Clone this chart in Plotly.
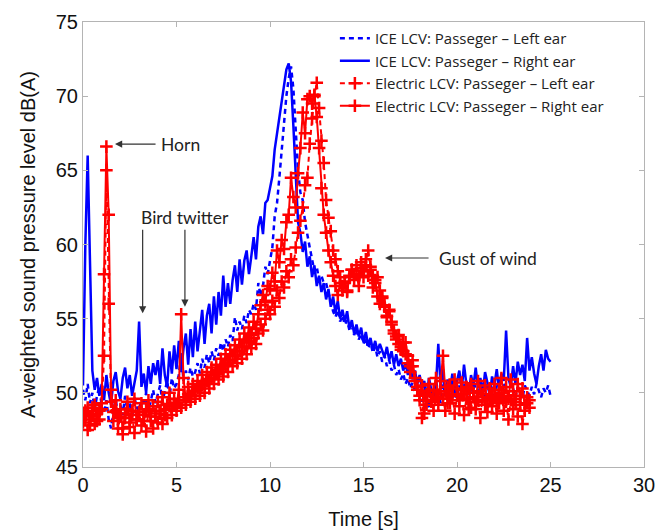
import numpy as np
import plotly.graph_objects as go

# ---- data (0.125 s steps) ----
ice_right = [
    50.5, 60.0, 66.0, 58.5, 51.5, 50.2, 51.0, 49.8,
    50.6, 49.5, 51.2, 50.0, 49.2, 50.8, 51.4, 50.1,
    49.6, 51.0, 51.7, 50.3, 51.2, 49.8, 50.6, 51.5,
    54.8, 50.4, 51.3, 50.0, 51.8, 50.6, 52.0, 51.2,
    52.2, 50.6, 53.0, 51.2, 50.4, 52.8, 51.3, 53.2,
    51.6, 53.5, 51.4, 53.0, 54.0, 51.9, 54.3, 52.4,
    54.8, 52.8, 54.2, 55.6, 53.3, 55.2, 56.0, 54.0,
    56.5, 54.6, 56.8, 55.2, 57.9, 55.8, 57.4, 56.0,
    57.6, 58.6, 56.8, 59.0, 57.3, 58.9, 59.6, 58.0,
    59.2, 60.5, 59.0, 61.2, 61.9, 60.7, 62.8, 63.0,
    63.8, 64.6, 66.4, 67.5, 68.6, 69.8, 71.0, 71.8,
    72.2, 71.0, 68.0, 64.5, 61.5, 60.8, 59.5, 60.2,
    58.5, 59.2, 57.8, 58.6, 57.2, 57.9, 56.8, 57.4,
    56.3, 57.0, 55.8, 56.5, 55.4, 56.2, 55.0, 55.6,
    54.8, 55.5, 54.3, 54.9, 54.0, 54.6, 53.8, 54.4,
    53.4, 54.1, 53.2, 53.7, 52.9, 53.5, 52.8, 53.3,
    52.9, 52.4, 53.1, 52.2, 52.8, 51.9, 52.6, 51.8,
    52.3, 51.5, 52.0, 51.2, 51.8, 50.9, 51.5, 50.6,
    51.2, 50.3, 50.8, 49.6, 51.0, 50.2, 49.4, 50.5,
    53.3, 50.4, 51.6, 49.8, 50.9, 50.1, 51.3, 49.7,
    50.8, 51.5, 50.2, 51.9, 50.6, 49.9, 51.2, 50.4,
    51.7, 50.3, 51.0, 50.0, 51.4, 50.7, 49.8, 51.1,
    50.5, 51.6, 50.2, 51.3, 50.8, 54.2, 51.0, 50.4,
    51.8, 50.6, 52.1, 51.2, 51.9, 50.8, 53.7, 51.5,
    52.4, 51.3, 50.6, 51.8, 52.6, 51.5, 52.9, 52.3,
    52.1,
]

ice_left = [
    50.2, 49.5, 50.6, 49.3, 50.0, 48.9, 49.8, 50.4,
    49.1, 48.6, 49.5, 48.2, 47.6, 48.8, 49.6, 48.4,
    49.2, 48.5, 49.8, 48.9, 49.4, 48.3, 49.7, 49.0,
    48.8, 49.6, 49.1, 50.0, 48.7, 49.5, 50.2, 49.3,
    49.9, 50.5, 49.4, 50.1, 50.8, 49.7, 51.0, 50.3,
    50.6, 51.2, 52.7, 50.8, 51.5, 50.9, 51.7, 51.1,
    51.4, 52.0, 51.3, 52.3, 51.7, 52.6, 52.0, 52.8,
    52.2, 53.0, 52.5, 53.4, 52.8, 53.6, 53.1, 53.9,
    53.5, 55.1, 54.2, 54.8, 54.3, 55.2, 54.7, 55.6,
    55.3, 56.0, 55.6, 57.4, 56.5, 57.2, 58.5, 58.0,
    59.0, 59.8, 61.9, 62.8, 64.5, 66.4, 68.2, 70.0,
    71.2, 72.0, 70.5, 67.5, 65.0, 63.5, 63.0, 61.5,
    60.5, 59.8, 59.0, 58.2, 58.5, 57.6, 57.9, 57.4,
    57.4, 56.8, 56.2, 55.5, 55.1, 55.6, 54.8, 55.2,
    54.6, 54.9, 54.2, 54.5, 53.9, 54.3, 53.6, 54.0,
    53.3, 53.7, 53.0, 53.4, 52.7, 53.1, 52.4, 52.8,
    52.1, 52.5, 51.8, 52.2, 51.5, 51.9, 51.2, 51.6,
    50.9, 51.3, 50.6, 51.0, 50.3, 50.7, 50.0, 50.4,
    50.1, 49.4, 50.5, 49.8, 48.9, 50.2, 49.6, 50.8,
    50.0, 49.3, 50.6, 49.9, 50.4, 49.5, 50.9, 50.2,
    49.6, 50.5, 49.8, 50.7, 50.0, 49.4, 50.3, 50.9,
    50.2, 49.7, 50.8, 50.1, 49.5, 50.6, 50.0, 50.4,
    49.8, 50.5, 50.1, 49.6, 50.7, 50.2, 49.9, 50.6,
    50.3, 49.7, 50.4, 50.0, 49.6, 50.5, 50.1, 49.8,
    50.4, 49.9, 50.6, 50.2, 49.7, 50.3, 50.0, 50.5,
    49.8,
]

ev_right = [
    48.6, 48.2, 49.0, 47.8, 48.5, 49.2, 48.1, 48.8,
    49.3, 58.0, 66.6, 62.0, 50.2, 48.7, 49.5, 48.3,
    48.9, 47.6, 48.6, 49.4, 48.0, 48.8, 49.6, 48.2,
    48.7, 49.3, 48.1, 48.9, 49.5, 48.4, 49.1, 48.6,
    49.4, 48.8, 49.7, 48.5, 49.2, 50.0, 48.9, 49.6,
    49.1, 50.2, 55.3, 51.0, 49.5, 50.4, 49.8, 50.6,
    50.1, 50.8, 50.3, 51.2, 50.6, 51.4, 50.9, 51.7,
    51.2, 51.9, 51.4, 52.3, 51.8, 52.6, 52.0, 52.9,
    52.5, 53.2, 52.8, 53.6, 53.1, 54.0, 53.5, 54.4,
    53.9, 54.8, 54.3, 55.3, 55.9, 56.6, 56.1, 57.2,
    57.0, 58.1, 57.5, 59.6, 58.8, 60.3, 59.7, 61.5,
    62.0, 64.5, 63.2, 62.5, 64.8, 66.5, 68.9, 67.5,
    69.8, 70.0, 69.5, 70.1, 68.6, 66.5, 63.8, 62.0,
    60.8, 59.6, 58.8, 57.9, 57.2, 56.6, 57.4, 56.9,
    57.5, 56.8, 57.9, 58.3, 57.6, 58.0, 57.2, 58.4,
    57.8, 58.6, 57.9, 58.3, 57.1, 57.6, 56.5, 56.0,
    56.4, 55.8, 55.2, 55.5, 54.6, 54.0, 53.6, 53.9,
    53.1, 52.8, 53.4, 52.5, 51.8, 52.2, 51.0, 50.4,
    49.8, 50.5, 48.6, 49.9, 50.6, 49.4, 50.2, 51.0,
    49.6, 50.8, 52.5, 50.1, 49.3, 50.5, 49.8, 50.9,
    50.3, 49.5, 50.7, 49.9, 50.4, 48.9, 50.6, 50.0,
    49.4, 50.8, 50.1, 49.7, 50.5, 49.2, 50.3, 49.8,
    50.6, 49.5, 50.2, 51.0, 49.8, 50.4, 49.6, 50.9,
    50.1, 49.4, 50.6, 49.8, 50.3, 49.2, 49.7, 49.5,
]

ev_left = [
    48.0, 48.8, 47.5, 48.4, 49.0, 47.9, 48.6, 48.2,
    48.9, 52.5, 65.0, 56.0, 49.4, 48.1, 48.8, 47.6,
    48.4, 47.2, 48.3, 48.9, 47.7, 48.5, 47.3, 48.2,
    48.7, 47.8, 48.5, 47.4, 48.8, 48.1, 47.6, 48.4,
    48.0, 48.6, 47.9, 48.9, 48.3, 49.1, 48.5, 49.3,
    48.8, 49.5, 49.0, 49.7, 49.2, 49.9, 49.4, 50.1,
    49.6, 50.3, 49.8, 50.5, 50.0, 50.8, 50.3, 51.0,
    50.6, 51.3, 50.9, 51.6, 51.1, 51.9, 51.4, 52.2,
    51.8, 52.5, 52.0, 52.8, 52.3, 53.1, 52.6, 53.4,
    53.0, 53.7, 53.3, 54.0, 54.6, 54.2, 55.0, 55.6,
    55.3, 56.2, 55.8, 56.9, 56.4, 57.5, 57.1, 58.2,
    57.8, 59.0, 58.6, 59.8, 60.8, 61.6, 62.5, 64.0,
    64.5, 66.8, 68.5, 70.0, 70.9, 69.2, 67.0, 65.5,
    63.0, 61.8, 60.9, 59.6, 59.0, 58.2, 57.8, 57.2,
    57.4, 56.9, 57.8, 58.3, 58.0, 58.6, 57.9, 58.8,
    58.2, 59.0, 59.6, 58.5, 57.9, 57.4, 57.8, 56.9,
    56.5, 55.9, 55.1, 55.6, 54.8, 54.2, 53.8, 53.3,
    52.9, 53.4, 52.6, 52.0, 51.4, 51.8, 50.8, 50.2,
    49.5, 48.3, 49.8, 49.2, 50.1, 49.5, 48.8, 49.7,
    49.2, 50.1, 49.6, 48.8, 50.4, 49.3, 49.9, 48.6,
    49.8, 49.1, 50.2, 48.5, 49.6, 50.3, 49.0, 49.7,
    48.9, 49.5, 48.3, 49.9, 49.2, 48.7, 49.6, 49.1,
    49.7, 48.6, 49.3, 50.0, 48.8, 49.4, 48.2, 49.5,
    48.9, 49.6, 48.4, 49.2, 47.9, 48.8, 49.3, 49.0,
]

dt = 0.125
t_ice = np.arange(len(ice_right)) * dt
t_ev = np.arange(len(ev_right)) * dt

names = [
    "ICE LCV: Passeger \u2013 Left ear",
    "ICE LCV: Passeger \u2013 Right ear",
    "Electric LCV: Passeger \u2013 Left ear",
    "Electric LCV: Passeger \u2013 Right ear",
]

x_ticks = [0, 5, 10, 15, 20, 25, 30]
y_ticks = [45, 50, 55, 60, 65, 70, 75]

BLUE = "#0000ff"
RED = "#ff0000"

fig = go.Figure()
fig.add_trace(go.Scatter(x=t_ice, y=ice_left, mode="lines", name=names[0],
                         line=dict(color=BLUE, width=2.5, dash="5px,4px")))
fig.add_trace(go.Scatter(x=t_ice, y=ice_right, mode="lines", name=names[1],
                         line=dict(color=BLUE, width=2.5)))
fig.add_trace(go.Scatter(x=t_ev, y=ev_left, mode="lines+markers", name=names[2],
                         line=dict(color=RED, width=2, dash="5px,4px"),
                         marker=dict(symbol="cross-thin", size=9, color=RED,
                                     line=dict(color=RED, width=2.5))))
fig.add_trace(go.Scatter(x=t_ev, y=ev_right, mode="lines+markers", name=names[3],
                         line=dict(color=RED, width=2),
                         marker=dict(symbol="cross-thin", size=9, color=RED,
                                     line=dict(color=RED, width=2.5))))

ANN_FONT = dict(family="Lato, Noto Sans, sans-serif", size=17.5, color="#222222")
ARROW = dict(showarrow=True, arrowhead=2, arrowsize=1.2, arrowwidth=1.2,
             arrowcolor="#333333", axref="x", ayref="y", text="")

annotations = [
    dict(x=1.71, y=66.77, ax=3.96, ay=66.77, **ARROW),
    dict(x=5.24, y=66.77, text="Horn", showarrow=False, font=ANN_FONT),
    dict(x=3.19, y=55.36, ax=3.19, ay=61.09, **ARROW),
    dict(x=5.45, y=55.8, ax=5.45, ay=61.09, **ARROW),
    dict(x=5.46, y=61.85, text="Bird twitter", showarrow=False, font=ANN_FONT),
    dict(x=16.15, y=59.09, ax=18.56, ay=59.09, **ARROW),
    dict(x=21.66, y=59.09, text="Gust of wind", showarrow=False, font=ANN_FONT),
]

AX_COLOR = "#b4b4b4"
TICK_FONT = dict(family="Liberation Sans, Arial, sans-serif", size=20, color="#111111")

# page body adds an 8 px offset; figure sized so plot area lands where the reference has it
fig.update_layout(
    width=659, height=523,
    margin=dict(l=75, r=23, t=14, b=64),
    paper_bgcolor="white", plot_bgcolor="white",
    showlegend=True,
    legend=dict(x=0.449, y=1.0, xanchor="left", yanchor="top",
                bgcolor="rgba(255,255,255,1)", borderwidth=0,
                font=dict(family="Open Sans, Lato, sans-serif", size=15, color="#222222"),
                tracegroupgap=0, itemwidth=30),
    annotations=annotations,
    xaxis=dict(range=[0, 30], tickvals=x_ticks, ticktext=[str(v) for v in x_ticks],
               showgrid=False, zeroline=False, showline=True, linecolor=AX_COLOR,
               linewidth=1.2, mirror="ticks", ticks="inside", ticklen=5,
               tickcolor=AX_COLOR, tickfont=TICK_FONT, automargin=False,
               title=dict(text="Time [s]", font=TICK_FONT, standoff=16)),
    yaxis=dict(range=[45, 75], tickvals=y_ticks, ticktext=[str(v) for v in y_ticks],
               showgrid=False, zeroline=False, showline=True, linecolor=AX_COLOR,
               linewidth=1.2, mirror="ticks", ticks="inside", ticklen=5,
               tickcolor=AX_COLOR, tickfont=TICK_FONT, automargin=False,
               title=dict(text="A-weighted sound pressure level dB(A)", font=TICK_FONT,
                          standoff=14)),
)

fig.write_html("out.html")
